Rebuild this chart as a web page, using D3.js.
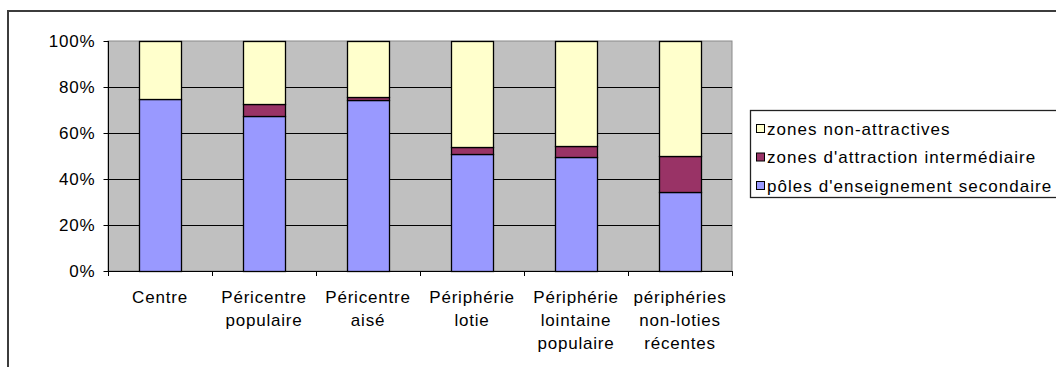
<!DOCTYPE html>
<html>
<head>
<meta charset="utf-8">
<script src="https://cdn.jsdelivr.net/npm/d3@7"></script>
<style>
  html, body { margin: 0; padding: 0; background: #fff; }
  svg { display: block; }
  text { font-family: "Liberation Sans", Arial, sans-serif; fill: #000; }
</style>
</head>
<body>
<svg id="chart" width="1056" height="367"></svg>
<script>
// Category labels, one array entry per line of text
const categories = [
  ["Centre"],
  ["Péricentre", "populaire"],
  ["Péricentre", "aisé"],
  ["Périphérie", "lotie"],
  ["Périphérie", "lointaine", "populaire"],
  ["périphéries", "non-loties", "récentes"]
];

// Shares (%) per category, stacked bottom to top
const polesSecondaire = [75, 67.5, 74.5, 51, 49.5, 34.5];
const zonesIntermediaire = [0, 5, 1, 3, 5, 15.5];
const zonesNonAttractives = [25, 27.5, 24.5, 46, 45.5, 50];

const seriesNames = [
  "pôles d'enseignement secondaire",
  "zones d'attraction intermédiaire",
  "zones non-attractives"
];
const seriesColors = ["#9999FF", "#993366", "#FFFFCC"];

const yTicks = [0, 20, 40, 60, 80, 100];
const yTickLabels = ["0%", "20%", "40%", "60%", "80%", "100%"];

const svg = d3.select("#chart");

// Outer chart frame
svg.append("rect")
  .attr("x", 8).attr("y", 11)
  .attr("width", 1200).attr("height", 500)
  .attr("fill", "#fff")
  .attr("stroke", "#3c3c3c")
  .attr("stroke-width", 2);

const plot = { left: 108, right: 732, top: 41, bottom: 271 };

const x = d3.scaleBand()
  .domain(d3.range(categories.length))
  .range([plot.left, plot.right])
  .paddingInner(0.6)
  .paddingOuter(0.3);

const y = d3.scaleLinear()
  .domain([0, 100])
  .range([plot.bottom, plot.top]);

// Plot background
svg.append("rect")
  .attr("x", plot.left).attr("y", plot.top)
  .attr("width", plot.right - plot.left)
  .attr("height", plot.bottom - plot.top)
  .attr("fill", "#C0C0C0")
  .attr("stroke", "#8a8a8a")
  .attr("stroke-width", 1);

// Horizontal gridlines
svg.append("g")
  .selectAll("line")
  .data(yTicks.filter(t => t > 0 && t < 100))
  .join("line")
  .attr("x1", plot.left).attr("x2", plot.right)
  .attr("y1", d => Math.round(y(d)) + 0.5)
  .attr("y2", d => Math.round(y(d)) + 0.5)
  .attr("stroke", "#000")
  .attr("stroke-width", 1);

// Stacked data
const rows = categories.map((c, i) => ({
  i,
  s0: polesSecondaire[i],
  s1: zonesIntermediaire[i],
  s2: zonesNonAttractives[i]
}));
const stack = d3.stack().keys(["s0", "s1", "s2"]);
const stacked = stack(rows);

svg.append("g")
  .selectAll("g")
  .data(stacked)
  .join("g")
  .attr("fill", (d, k) => seriesColors[k])
  .selectAll("rect")
  .data(d => d.filter(p => p[1] - p[0] > 0))
  .join("rect")
  .attr("x", p => Math.round(x(p.data.i)) + 0.5)
  .attr("width", Math.round(x.bandwidth()))
  .attr("y", p => Math.round(y(p[1])) + 0.5)
  .attr("height", p => Math.round(y(p[0])) - Math.round(y(p[1])))
  .attr("stroke", "#000")
  .attr("stroke-width", 1.3);

// Y axis
const yAxis = d3.axisLeft(y)
  .tickValues(yTicks)
  .tickFormat((d, i) => yTickLabels[i])
  .tickSize(5)
  .tickPadding(8);
const gy = svg.append("g")
  .attr("transform", `translate(${plot.left + 0.5},0)`)
  .call(yAxis);
gy.select(".domain").attr("stroke", "#000").attr("d", `M0,${plot.top}V${plot.bottom + 5}`);
gy.selectAll(".tick line").attr("stroke", "#000");
gy.selectAll(".tick text")
  .attr("font-size", 17)
  .attr("letter-spacing", 0.8)
  .attr("font-family", "'Liberation Sans', Arial, sans-serif")
  .attr("fill", "#000");

// X axis line with ticks at category boundaries
const boundaries = d3.range(categories.length + 1).map(i => plot.left + i * x.step());
svg.append("line")
  .attr("x1", plot.left).attr("x2", plot.right)
  .attr("y1", plot.bottom + 0.5).attr("y2", plot.bottom + 0.5)
  .attr("stroke", "#000");
svg.append("g")
  .selectAll("line")
  .data(boundaries)
  .join("line")
  .attr("x1", d => Math.round(d) + 0.5).attr("x2", d => Math.round(d) + 0.5)
  .attr("y1", plot.bottom).attr("y2", plot.bottom + 5)
  .attr("stroke", "#000");

// Category labels
svg.append("g")
  .selectAll("text")
  .data(categories)
  .join("text")
  .attr("x", (d, i) => x(i) + x.bandwidth() / 2)
  .attr("y", 303)
  .attr("text-anchor", "middle")
  .attr("font-size", 17)
  .attr("letter-spacing", 0.8)
  .selectAll("tspan")
  .data(d => d)
  .join("tspan")
  .attr("x", function () { return this.parentNode.getAttribute("x"); })
  .attr("dy", (d, j) => j === 0 ? 0 : 23)
  .text(d => d);

// Legend
const legend = svg.append("g");
legend.append("rect")
  .attr("x", 750.5).attr("y", 110.5)
  .attr("width", 400).attr("height", 87)
  .attr("fill", "#fff")
  .attr("stroke", "#222")
  .attr("stroke-width", 1.3);

const legendOrder = [2, 1, 0];
const legendRows = [128.5, 157, 185.5];
legendOrder.forEach((k, r) => {
  legend.append("rect")
    .attr("x", 756.5).attr("y", legendRows[r] - 4)
    .attr("width", 8).attr("height", 8)
    .attr("fill", seriesColors[k])
    .attr("stroke", "#000")
    .attr("stroke-width", 1);
  legend.append("text")
    .attr("x", 767)
    .attr("y", legendRows[r] + 6)
    .attr("font-size", 17)
    .attr("letter-spacing", 1.05)
    .text(seriesNames[k]);
});
</script>
</body>
</html>
